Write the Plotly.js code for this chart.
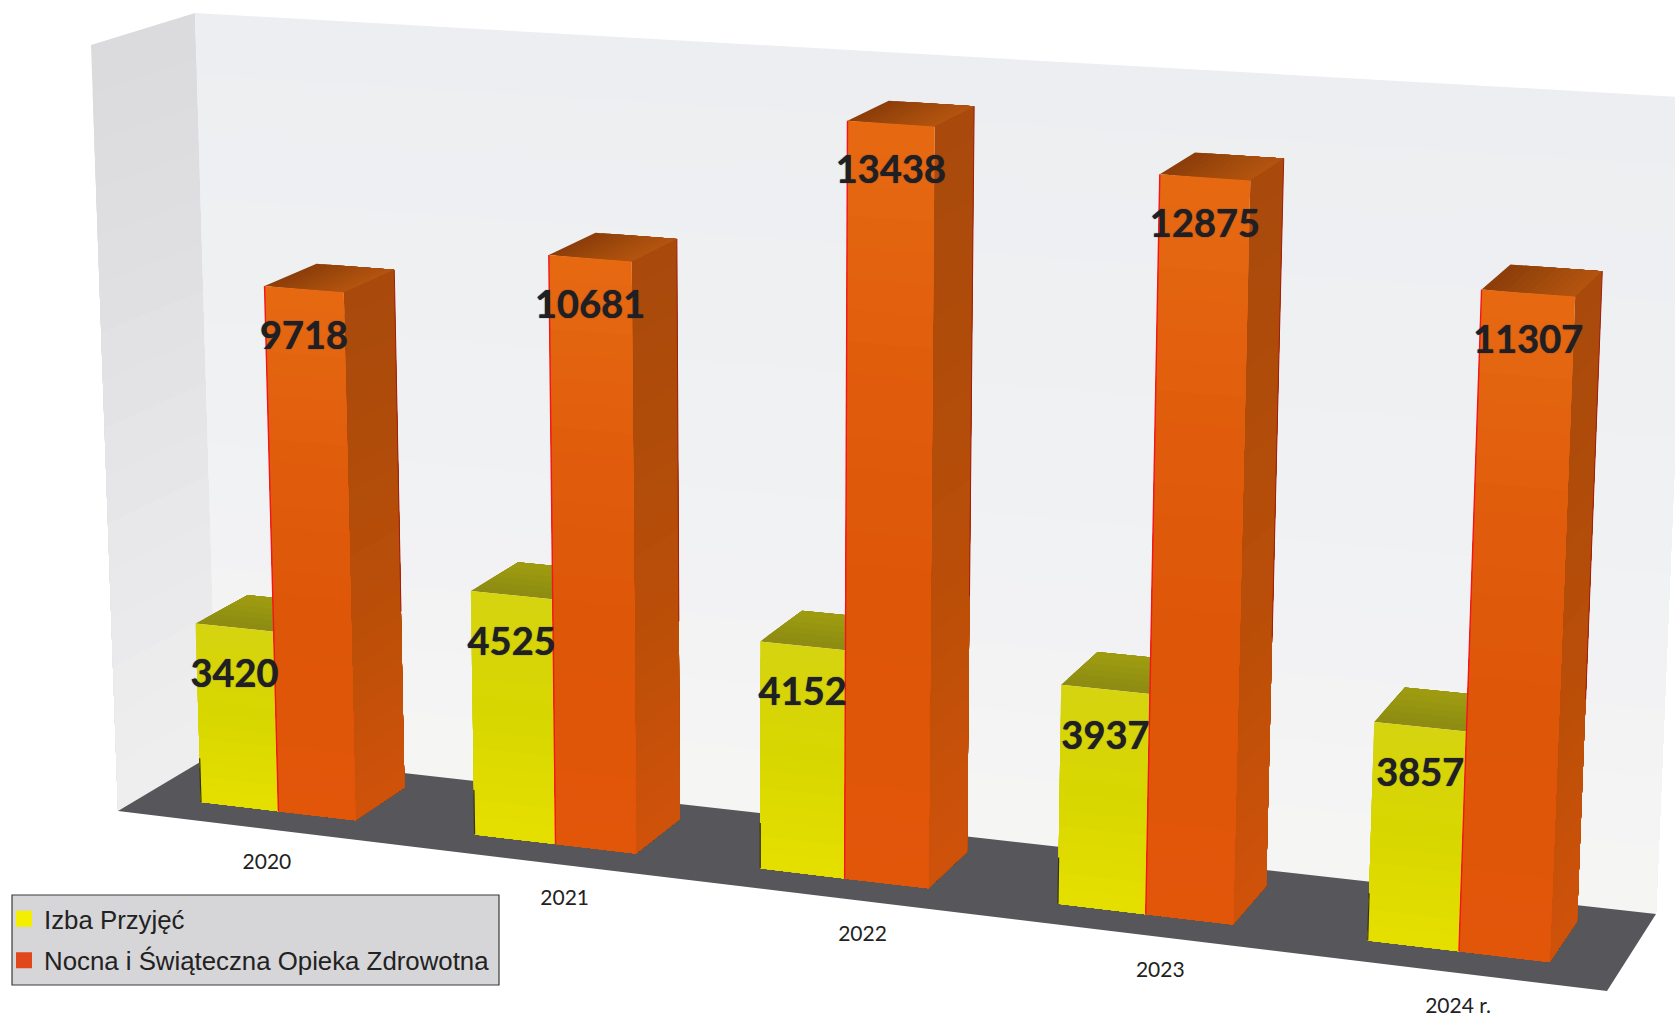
<!DOCTYPE html>
<html>
<head>
<meta charset="utf-8">
<script src="https://cdn.plot.ly/plotly-3.0.1.min.js"></script>
<style>html,body{margin:0;padding:0;background:#fff;overflow:hidden}</style>
</head>
<body>
<div id="chart" style="width:1675px;height:1019px"></div>
<script>
// --- data ---
const years = ["2020", "2021", "2022", "2023", "2024 r."];
const izbaPrzyjec = [3420, 4525, 4152, 3937, 3857];
const nocnaOpieka = [9718, 10681, 13438, 12875, 11307];
const seriesNames = ["Izba Przyjęć", "Nocna i Świąteczna Opieka Zdrowotna"];
const seriesColors = ["#f4ee00", "#e0481c"];

// --- 3D scene: the box that holds the bars, seen in perspective ---
const zBase = 150, zTop = 14044;
const wall = {
  fl0: [118, 811], fr0: [1607, 991], br0: [1656, 914], bl0: [217, 752],
  flT: [91, 45], brT: [1690, 97.5], blT: [195, 13]
};
const box = {
  fl0: wall.fl0, fr0: wall.fr0, br0: wall.br0, bl0: wall.bl0,
  flT: [91, 48], frT: [1642, 149], brT: [1690, 108], blT: [195, 16]
};
const mix = (p, q, f) => [p[0] + (q[0] - p[0]) * f, p[1] + (q[1] - p[1]) * f];
function project(t, b, z) {
  const a = 0.898 * t + 0.102 * t * t;
  const bottom = mix(mix(box.fl0, box.fr0, a), mix(box.bl0, box.br0, a), b);
  const top = mix(mix(box.flT, box.frT, a), mix(box.blT, box.brT, a), b);
  return mix(bottom, top, Math.max(0, z - zBase) / (zTop - zBase));
}
const nCat = years.length;
const yellowW = 0.0575, orangeW = 0.0565, bFront = 0.267, bBack = 0.8;
const catT = i => (i + 0.5) / nCat;

function hex(c) { return [1, 3, 5].map(k => parseInt(c.substr(k, 2), 16)); }
function ramp(stops, f) {
  const p = f * (stops.length - 1), k = Math.min(Math.floor(p), stops.length - 2), g = p - k;
  const A = hex(stops[k]), B = hex(stops[k + 1]);
  return "rgb(" + A.map((v, j) => Math.round(v + (B[j] - v) * g)).join(",") + ")";
}
const traces = [];
// faces: list of [A,B,C,D] (A-B start edge, D-C end edge); painted as overlapping bands
function addLayer(faces, stops, n) {
  for (let s = 0; s < n; s++) {
    const f = s / n, x = [], y = [];
    faces.forEach(q => {
      const pts = [mix(q[0], q[3], f), mix(q[1], q[2], f), q[2], q[3]];
      pts.concat([pts[0]]).forEach(p => { x.push(p[0]); y.push(p[1]); });
      x.push(null); y.push(null);
    });
    traces.push({ type: "scatter", x, y, mode: "none", fill: "toself",
      fillcolor: ramp(stops, (s + 0.5) / n), hoverinfo: "skip", showlegend: false });
  }
}
function addLines(segs, color, width) {
  const x = [], y = [];
  segs.forEach(g => { g.forEach(p => { x.push(p[0]); y.push(p[1]); }); x.push(null); y.push(null); });
  traces.push({ type: "scatter", x, y, mode: "lines", line: { color, width },
    hoverinfo: "skip", showlegend: false });
}

// walls and floor
addLayer([[wall.flT, wall.blT, wall.bl0, wall.fl0]], ["#dadadd", "#e0e0e2", "#e8e8ea", "#efefef"], 16);
addLayer([[wall.blT, wall.brT, wall.br0, wall.bl0]], ["#eceef1", "#eef0f2", "#f1f2f4", "#f5f5f4"], 12);
addLayer([[wall.fl0, wall.fr0, wall.br0, wall.bl0]], ["#57575b", "#55555a"], 1);

// bars
const frontFace = (t0, t1, v) => [project(t0, bFront, v), project(t1, bFront, v), project(t1, bFront, 0), project(t0, bFront, 0)];
const topFace = (t0, t1, v) => [project(t0, bFront, v), project(t0, bBack, v), project(t1, bBack, v), project(t1, bFront, v)];
const topFaceFB = (t0, t1, v) => [project(t0, bFront, v), project(t1, bFront, v), project(t1, bBack, v), project(t0, bBack, v)];
const sideFace = (t1, v) => [project(t1, bFront, v), project(t1, bBack, v), project(t1, bBack, 0), project(t1, bFront, 0)];

const yF = izbaPrzyjec.map((v, i) => frontFace(catT(i) - yellowW, catT(i), v));
const yT = izbaPrzyjec.map((v, i) => topFaceFB(catT(i) - yellowW, catT(i), v));
const oF = nocnaOpieka.map((v, i) => frontFace(catT(i), catT(i) + orangeW, v));
const oS = nocnaOpieka.map((v, i) => sideFace(catT(i) + orangeW, v));
const oT = nocnaOpieka.map((v, i) => topFace(catT(i), catT(i) + orangeW, v));

addLayer(yT, ["#8c8a12", "#a09c10"], 6);
addLayer(yF, ["#d6d410", "#d8d600", "#e6e000"], 14);
addLines(izbaPrzyjec.map((v, i) => [project(catT(i) - yellowW, bFront, 950), project(catT(i) - yellowW, bFront, 0)]), "#34340c", 1.2);
addLayer(oS, ["#a84a0c", "#b04c0a", "#bc4f08", "#d0520a"], 24);
addLayer(oT, ["#8c3d0a", "#a04a0c", "#b55410"], 12);
addLayer(oF, ["#e66a12", "#e05c0c", "#de5608", "#e2560a"], 24);
addLines(nocnaOpieka.map((v, i) => [project(catT(i), bFront, v), project(catT(i), bFront, 0)]), "#f5141a", 1.4);
addLines(nocnaOpieka.map((v, i) => [project(catT(i) + orangeW, bBack, v), project(catT(i) + orangeW, bBack, v * 0.35)]), "#a01c10", 1);

// data labels
const labelDrop = 50;
function labels(vals, t) {
  const p = vals.map((v, i) => {
    const c = project(catT(i) + t, bFront, v);
    return [c[0], c[1] + labelDrop];
  });
  traces.push({ type: "scatter", mode: "text", x: p.map(q => q[0]), y: p.map(q => q[1]),
    text: vals.map(String), textposition: "middle center", cliponaxis: false,
    textfont: { family: "Lato, sans-serif", size: 38, weight: 700, color: "#1f1f24", shadow: "0 0 1px #1f1f24" },
    hoverinfo: "skip", showlegend: false });
}
labels(izbaPrzyjec, -yellowW / 2);
labels(nocnaOpieka, orangeW / 2);

// category labels below the front edge of the floor
const catPts = years.map((y, i) => {
  const c = mix(box.fl0, box.fr0, catT(i));
  return [c[0], c[1] + 35];
});
traces.push({ type: "scatter", mode: "text", x: catPts.map(q => q[0]), y: catPts.map(q => q[1]),
  text: years, textposition: "middle center", cliponaxis: false,
  textfont: { family: "Lato, sans-serif", size: 21, color: "#222" }, hoverinfo: "skip", showlegend: false });

// legend entries
seriesNames.forEach((n, k) => traces.push({ type: "scatter", x: [null], y: [null], mode: "markers", name: n,
  legendgroup: "g" + k,
  marker: { symbol: "square", size: 17, color: seriesColors[k] } }));

Plotly.newPlot("chart", traces, {
  width: 1675, height: 1019, margin: { l: 0, r: 0, t: 0, b: 0 },
  paper_bgcolor: "#ffffff", plot_bgcolor: "#ffffff",
  xaxis: { range: [0, 1675], visible: false, fixedrange: true },
  yaxis: { range: [1019, 0], visible: false, fixedrange: true },
  shapes: [{ type: "rect", xref: "paper", yref: "paper", layer: "above",
    x0: 12 / 1675, x1: 499 / 1675, y0: 1 - 985 / 1019, y1: 1 - 895 / 1019,
    fillcolor: "#d6d5d8", line: { color: "#3a3a3a", width: 1.2 } }],
  showlegend: true,
  legend: { x: 4 / 1675, y: 1 - 895.5 / 1019, xanchor: "left", yanchor: "top",
    bgcolor: "rgba(0,0,0,0)", borderwidth: 0, itemwidth: 30, tracegroupgap: 5,
    font: { family: "Liberation Sans, Arial, sans-serif", size: 25.8, color: "#222" } }
}, { displayModeBar: false, staticPlot: true });
</script>
</body>
</html>
